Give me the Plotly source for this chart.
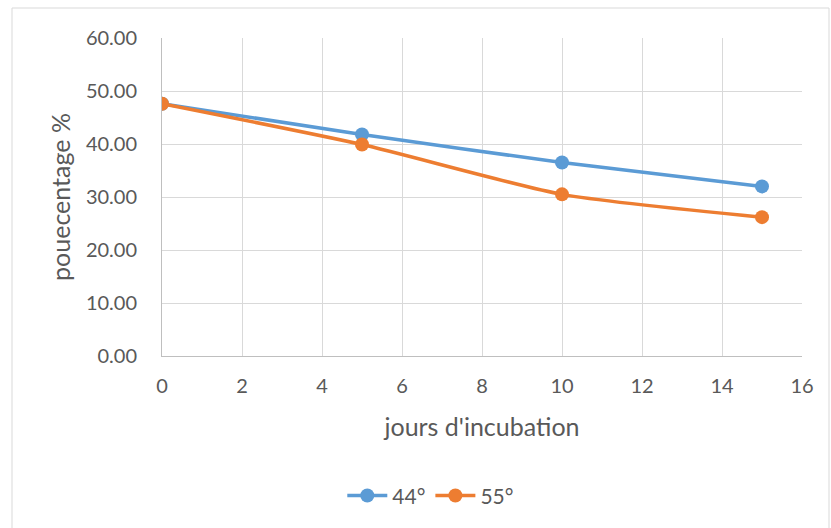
import plotly.graph_objects as go

days = [0, 5, 10, 15]
s44 = [47.6, 41.8, 36.5, 32.0]
s55 = [47.6, 39.9, 30.5, 26.2]
names = ["44°", "55°"]
colors = ["#5b9bd5", "#ed7d31"]

fig = go.Figure()
for name, ys, c in zip(names, [s44, s55], colors):
    fig.add_trace(go.Scatter(
        x=days, y=ys, name=name, mode="lines+markers",
        line=dict(color=c, width=3.5, shape="spline", smoothing=0.6),
        marker=dict(color=c, size=14),
    ))

font = "Lato"
fig.update_layout(
    width=831, height=528,
    margin=dict(l=162, r=29, t=38, b=172),
    paper_bgcolor="white", plot_bgcolor="white",
    font=dict(family=font, size=20, color="#595959"),
    showlegend=True,
    legend=dict(orientation="h", x=0.42, y=-0.44, xanchor="center", yanchor="middle",
                font=dict(size=21, color="#595959"), itemwidth=40),
    xaxis=dict(range=[0, 16], dtick=2, tick0=0, showgrid=True, gridcolor="#d9d9d9", gridwidth=1,
               showline=True, linecolor="#bfbfbf", linewidth=1, zeroline=False,
               ticks="", ticklabelstandoff=12,
               title=dict(text="jours d'incubation", font=dict(size=25, color="#595959"), standoff=22)),
    yaxis=dict(range=[0, 60], dtick=10, tickformat=".2f", showgrid=True, gridcolor="#d9d9d9", gridwidth=1,
               showline=True, linecolor="#bfbfbf", linewidth=1, zeroline=False, ticks="",
               ticklabelstandoff=20,
               title=dict(text="pouecentage %", font=dict(size=25, color="#595959"), standoff=8)),
)
fig.add_shape(type="rect", xref="paper", yref="paper",
              x0=(12 - 162) / 640, x1=(829 - 162) / 640,
              y0=(356 - 540) / 318, y1=(356 - 8) / 318,
              line=dict(color="#d9d9d9", width=1), layer="below")
fig.write_html("out.html")
